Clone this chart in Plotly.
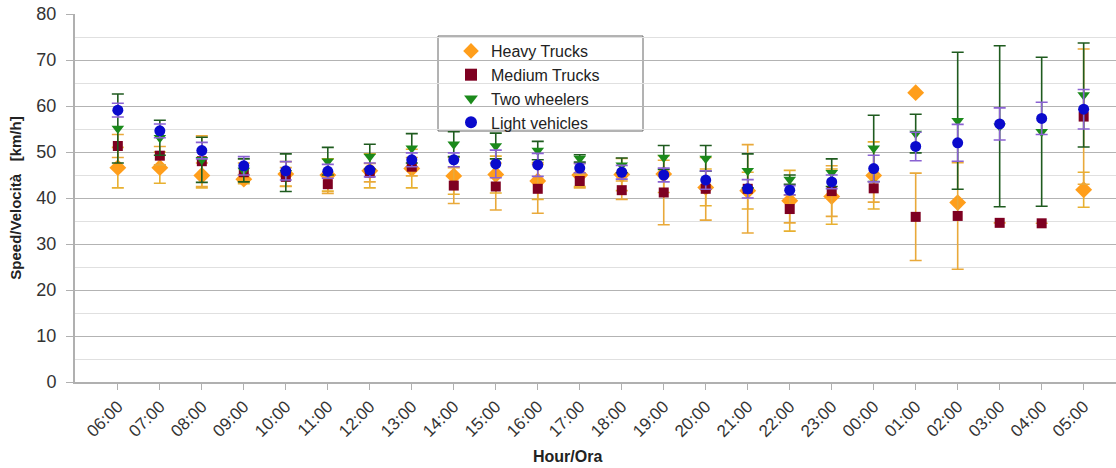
import plotly.graph_objects as go

hours = ["06:00", "07:00", "08:00", "09:00", "10:00", "11:00", "12:00", "13:00",
         "14:00", "15:00", "16:00", "17:00", "18:00", "19:00", "20:00", "21:00",
         "22:00", "23:00", "00:00", "01:00", "02:00", "03:00", "04:00", "05:00"]

heavy = [46.6, 46.6, 44.9, 44.1, 45.2, 45.0, 45.9, 46.4, 44.8, 45.1, 43.7, 45.0,
         45.1, 45.2, 42.3, 41.6, 39.4, 40.3, 44.9, 62.9, 39.0, None, None, 41.8]
heavy_err = [4.4, 3.4, 2.7, 1.0, 2.7, 3.5, 3.7, 4.2, 4.0, 4.0, 4.0, 2.5,
             3.5, 4.0, 4.0, 4.0, 6.6, 6.0, 7.3, 0, 0, None, None, 3.8]

medium = [51.3, 49.2, 48.0, 45.6, 44.6, 43.0, 45.5, 46.8, 42.7, 42.5, 42.0, 43.7,
          41.7, 41.2, 42.0, 42.0, 37.6, 41.5, 42.1, 35.9, 36.1, 34.6, 34.5, 57.7]
medium_err = [2.5, 2.0, 5.5, 2.0, 2.0, 2.0, 2.0, 2.0, 3.9, 5.1, 5.3, 1.5,
              2.0, 7.0, 6.8, 9.6, 3.0, 5.5, 3.0, 9.5, 11.6, 0, 0, 14.7]

two_wheelers = [55.1, 53.1, 48.3, 46.0, 45.5, 48.0, 49.0, 50.8, 51.7, 51.3, 50.3, 48.6,
                47.1, 48.8, 48.6, 45.9, 44.0, 45.5, 50.8, 54.0, 56.8, 55.6, 54.4, 62.4]
two_err = [7.5, 3.8, 4.9, 2.5, 4.1, 3.0, 2.7, 3.2, 2.7, 2.8, 2.0, 0.8,
           1.6, 2.6, 2.8, 3.7, 1.0, 3.0, 7.2, 4.2, 14.9, 17.5, 16.2, 11.3]

light = [59.1, 54.6, 50.3, 47.0, 45.9, 45.8, 46.1, 48.3, 48.3, 47.4, 47.2, 46.5,
         45.6, 45.0, 43.9, 42.0, 41.7, 43.5, 46.4, 51.2, 52.0, 56.1, 57.3, 59.3]
light_err = [1.5, 1.5, 1.8, 2.0, 2.0, 1.5, 1.5, 1.5, 1.5, 3.0, 2.5, 1.0,
             1.5, 1.5, 2.0, 2.0, 1.0, 1.5, 2.9, 3.1, 4.0, 3.5, 3.5, 4.3]

series = [
    ("Heavy Trucks", heavy, heavy_err, "#FF9E1B", "diamond", 13, "#E8B030"),
    ("Medium Trucks", medium, medium_err, "#7E0021", "square", 10, "#E9A93A"),
    ("Two wheelers", two_wheelers, two_err, "#1B8A1B", "triangle-down", 11, "#1F5B1F"),
    ("Light vehicles", light, light_err, "#0A0ACC", "circle", 11, "#8A62D2"),
]

fig = go.Figure()
for name, vals, errs, col, sym, size, ecol in series:
    fig.add_trace(go.Scatter(
        x=hours, y=vals, name=name, mode="markers",
        marker=dict(color=col, symbol=sym, size=size, line=dict(width=0)),
        error_y=dict(type="data", array=errs, visible=True, color=ecol,
                     thickness=1.6, width=6),
    ))

PL, PT, PB = 75, 14, 382          # plot area in page pixels
PW, PH = 1041, PB - PT

def px(xp):
    return (xp - PL) / PW

def py(yp):
    return (PB - yp) / PH

font_family = "Liberation Sans, Arial, sans-serif"
fig.update_layout(
    width=1116, height=468,
    margin=dict(l=75, r=0, t=14, b=86),
    paper_bgcolor="white", plot_bgcolor="white",
    font=dict(family=font_family, color="#222222"),
    showlegend=True,
    legend=dict(
        x=px(451), y=py(34), xanchor="left", yanchor="top",
        bgcolor="rgba(255,255,255,0)", borderwidth=0,
        font=dict(size=16, family=font_family, color="#222222"),
        itemsizing="constant", tracegroupgap=0,
    ),
    shapes=[dict(type="rect", xref="paper", yref="paper",
                 x0=px(438), x1=px(643), y0=py(131), y1=py(36),
                 line=dict(color="#666666", width=1), fillcolor="white",
                 layer="below")],
    annotations=[dict(text="<b>Hour/Ora</b>", xref="paper", yref="paper",
                      x=px(567), y=py(456),
                      xanchor="center", yanchor="middle", showarrow=False,
                      font=dict(size=16, family=font_family, color="#222222"))],
)
fig.update_xaxes(
    type="category", range=[-1.02, 23.77],
    showgrid=False, showline=True, linecolor="#b0b0b0", linewidth=2,
    ticks="outside", ticklen=6, tickcolor="#b0b0b0",
    tickangle=-45, tickfont=dict(size=17, family=font_family, color="#333333"),
)
fig.update_yaxes(
    range=[0, 80], dtick=10, tick0=0,
    showgrid=True, gridcolor="#b3b3b3", gridwidth=1,
    minor=dict(dtick=5, showgrid=True, gridcolor="#e0e0e0", gridwidth=1),
    showline=True, linecolor="#b0b0b0", linewidth=2,
    ticks="outside", ticklen=7, tickcolor="#b0b0b0",
    ticklabelstandoff=6, ticklabeloverflow="allow",
    zeroline=False,
    tickfont=dict(size=18, family=font_family, color="#333333"),
    title=dict(text="<b>Speed/Velocità   [km/h]</b>", standoff=11,
               font=dict(size=15, family=font_family, color="#222222")),
)

# remove the browser's default 8px body margin so the figure fills the window
fig.write_html("out.html", config={"displayModeBar": False},
               post_script="document.body.style.margin='0';")
